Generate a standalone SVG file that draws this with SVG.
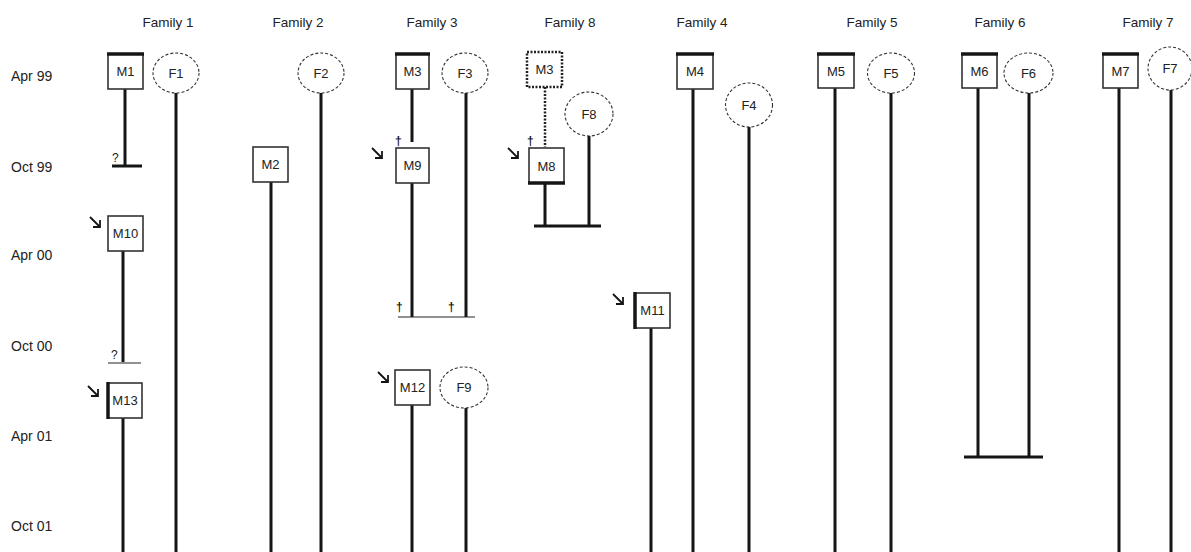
<svg xmlns="http://www.w3.org/2000/svg" width="1191" height="552" viewBox="0 0 1191 552">
<defs>
<style>
.t{font-family:"Liberation Sans",Arial,sans-serif;fill:#222}
.hdr{font-size:13.5px;text-anchor:middle}
.row{font-size:14px}
.lbl{font-size:13px;text-anchor:middle}
.box{fill:#fff;stroke:#333;stroke-width:1.6}
.fem{fill:#fff;stroke:#333;stroke-width:1.1;stroke-dasharray:3 2}
.life{stroke:#151515;stroke-width:3;fill:none}
.thin{stroke:#222;stroke-width:1.2;fill:none}
.edge{stroke:#151515;stroke-width:3.5;fill:none}
.arr{stroke:#151515;stroke-width:1.8;fill:none}
.dag{font-size:12px;font-weight:bold;fill:#111}
.q{font-size:12px}
</style>
</defs>
<rect width="1191" height="552" fill="#fff"/>
<g id="headers">
<text class="t hdr" x="168" y="27">Family 1</text>
<text class="t hdr" x="298" y="27">Family 2</text>
<text class="t hdr" x="432" y="27">Family 3</text>
<text class="t hdr" x="570" y="27">Family 8</text>
<text class="t hdr" x="702" y="27">Family 4</text>
<text class="t hdr" x="872" y="27">Family 5</text>
<text class="t hdr" x="1000" y="27">Family 6</text>
<text class="t hdr" x="1148" y="27">Family 7</text>
</g>
<g id="rows">
<text class="t row" x="11" y="81">Apr 99</text>
<text class="t row" x="11" y="172">Oct 99</text>
<text class="t row" x="11" y="260">Apr 00</text>
<text class="t row" x="11" y="351">Oct 00</text>
<text class="t row" x="11" y="441">Apr 01</text>
<text class="t row" x="11" y="531">Oct 01</text>
</g>
<g id="connectors">
<line class="life" x1="125" y1="89" x2="125" y2="166"/>
<line class="life" x1="112" y1="166" x2="142" y2="166"/>
<line class="life" x1="176" y1="93" x2="176" y2="552"/>
<line class="life" x1="123" y1="251" x2="123" y2="362"/>
<line class="thin" x1="108" y1="363" x2="141" y2="363"/>
<line class="life" x1="123" y1="418" x2="123" y2="552"/>
<line class="life" x1="321" y1="93" x2="321" y2="552"/>
<line class="life" x1="271" y1="182" x2="271" y2="552"/>
<line class="life" x1="412" y1="89" x2="412" y2="142"/>
<line class="life" x1="412" y1="183" x2="412" y2="317"/>
<line class="life" x1="466" y1="93" x2="466" y2="317"/>
<line class="thin" x1="398" y1="317" x2="475" y2="317"/>
<line class="life" x1="412" y1="405" x2="412" y2="552"/>
<line class="life" x1="466" y1="408" x2="466" y2="552"/>
<line x1="545" y1="87" x2="545" y2="147" stroke="#222" stroke-width="2.5" stroke-dasharray="2 1.5"/>
<line class="life" x1="545" y1="183" x2="545" y2="226"/>
<line class="life" x1="589" y1="136" x2="589" y2="226"/>
<line class="life" x1="534" y1="226" x2="601" y2="226"/>
<line class="life" x1="693" y1="89" x2="693" y2="552"/>
<line class="life" x1="749" y1="127" x2="749" y2="552"/>
<line class="life" x1="651" y1="328" x2="651" y2="552"/>
<line class="life" x1="835" y1="88" x2="835" y2="552"/>
<line class="life" x1="891" y1="93" x2="891" y2="552"/>
<line class="life" x1="978" y1="88" x2="978" y2="457"/>
<line class="life" x1="1029" y1="93" x2="1029" y2="457"/>
<line class="life" x1="964" y1="457" x2="1043" y2="457"/>
<line class="life" x1="1119" y1="88" x2="1119" y2="552"/>
<line class="life" x1="1171" y1="90" x2="1171" y2="552"/>
</g>
<g id="annotations">
<text class="t q" x="112" y="162">?</text>
<text class="t q" x="111" y="359">?</text>
<text class="t dag" x="395" y="145">†</text>
<text class="t dag" x="527" y="145">†</text>
<text class="t dag" x="396" y="311">†</text>
<text class="t dag" x="448" y="311">†</text>
<path class="arr" d="M90 217 L100 227 M93 227 L100 227 L100 220"/>
<path class="arr" d="M88 386 L98 396 M91 396 L98 396 L98 389"/>
<path class="arr" d="M372 148 L382 158 M375 158 L382 158 L382 151"/>
<path class="arr" d="M508 148 L518 158 M511 158 L518 158 L518 151"/>
<path class="arr" d="M378 372 L388 382 M381 382 L388 382 L388 375"/>
<path class="arr" d="M613 294 L623 304 M616 304 L623 304 L623 297"/>
</g>
<g id="M1"><rect class="box" x="108" y="54" width="35" height="35"/><line class="edge" x1="107" y1="54" x2="144" y2="54"/><text class="t lbl" x="125.5" y="76">M1</text></g>
<g id="F1"><ellipse class="fem" cx="176" cy="73" rx="23" ry="20"/><text class="t lbl" x="176" y="78">F1</text></g>
<g id="F2"><ellipse class="fem" cx="321" cy="73" rx="23" ry="20"/><text class="t lbl" x="321" y="78">F2</text></g>
<g id="M2"><rect class="box" x="253" y="147" width="35" height="35"/><text class="t lbl" x="270.5" y="169">M2</text></g>
<g id="M10"><rect class="box" x="108" y="216" width="35" height="35"/><text class="t lbl" x="125.5" y="238">M10</text></g>
<g id="M13"><rect class="box" x="108" y="383" width="34" height="35"/><line class="edge" x1="108" y1="382" x2="108" y2="419"/><text class="t lbl" x="125" y="405">M13</text></g>
<g id="M3"><rect class="box" x="396" y="54" width="33" height="35"/><line class="edge" x1="395" y1="54" x2="430" y2="54"/><text class="t lbl" x="412.5" y="76">M3</text></g>
<g id="F3"><ellipse class="fem" cx="465" cy="73" rx="23" ry="20"/><text class="t lbl" x="465" y="78">F3</text></g>
<g id="M9"><rect class="box" x="396" y="148" width="33" height="35"/><text class="t lbl" x="412.5" y="170">M9</text></g>
<g id="M12"><rect class="box" x="395" y="370" width="35" height="35"/><text class="t lbl" x="412.5" y="392">M12</text></g>
<g id="F9"><ellipse class="fem" cx="464" cy="387.5" rx="24" ry="20.5"/><text class="t lbl" x="464" y="392">F9</text></g>
<g id="M3b"><rect x="527" y="52" width="35" height="35" fill="#fff" stroke="#222" stroke-width="2.5" stroke-dasharray="2 1.5"/><text class="t lbl" x="544.5" y="74">M3</text></g>
<g id="F8"><ellipse class="fem" cx="589" cy="114" rx="24" ry="22"/><text class="t lbl" x="589" y="119">F8</text></g>
<g id="M8"><rect class="box" x="529" y="148" width="35" height="35"/><line class="edge" x1="528" y1="183" x2="565" y2="183"/><text class="t lbl" x="546.5" y="171">M8</text></g>
<g id="M4"><rect class="box" x="677" y="54" width="36" height="35"/><line class="edge" x1="676" y1="54" x2="714" y2="54"/><text class="t lbl" x="695" y="76">M4</text></g>
<g id="F4"><ellipse class="fem" cx="749" cy="105" rx="23.5" ry="22"/><text class="t lbl" x="749" y="110">F4</text></g>
<g id="M11"><rect class="box" x="635" y="293" width="35" height="35"/><line class="edge" x1="635" y1="292" x2="635" y2="329" stroke-width="2.5"/><text class="t lbl" x="652.5" y="315">M11</text></g>
<g id="M5"><rect class="box" x="818" y="54" width="36" height="34"/><line class="edge" x1="817" y1="54" x2="855" y2="54"/><text class="t lbl" x="836" y="76">M5</text></g>
<g id="F5"><ellipse class="fem" cx="891" cy="73" rx="23.5" ry="20"/><text class="t lbl" x="891" y="78">F5</text></g>
<g id="M6"><rect class="box" x="962" y="54" width="35" height="34"/><line class="edge" x1="961" y1="54" x2="998" y2="54"/><text class="t lbl" x="979.5" y="76">M6</text></g>
<g id="F6"><ellipse class="fem" cx="1028.5" cy="73" rx="24.5" ry="20"/><text class="t lbl" x="1028.5" y="78">F6</text></g>
<g id="M7"><rect class="box" x="1103" y="54" width="35" height="34"/><line class="edge" x1="1102" y1="54" x2="1139" y2="54"/><text class="t lbl" x="1120.5" y="76">M7</text></g>
<g id="F7"><ellipse class="fem" cx="1170" cy="68.5" rx="22" ry="21.5"/><text class="t lbl" x="1170" y="73">F7</text></g>
</svg>
